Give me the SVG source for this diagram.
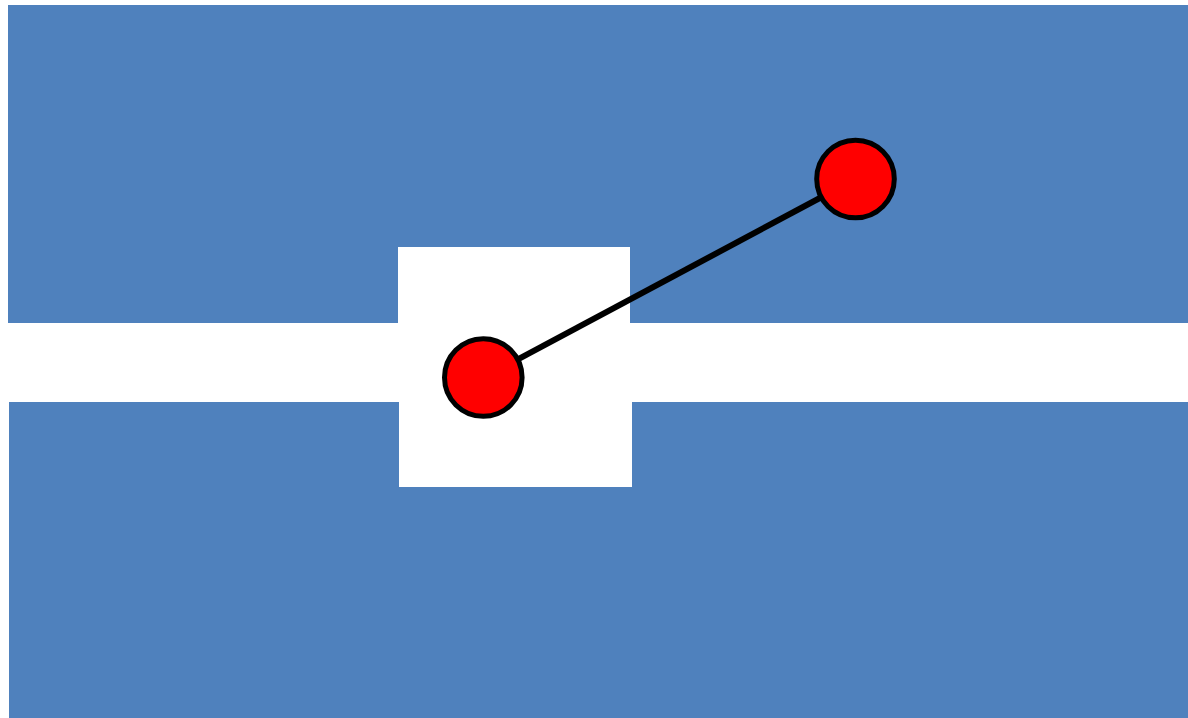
<svg xmlns="http://www.w3.org/2000/svg" width="1188" height="718" viewBox="0 0 1188 718">
<style>
.blue{fill:#4f81bd}
.node{fill:#ff0000;stroke:#000;stroke-width:5}
.conn{stroke:#000;stroke-width:6;fill:none}
</style>
<rect width="1188" height="718" fill="#fff"/>
<g id="background">
<path class="blue" d="M8 5H1188V323H630V247H398V323H8Z"/>
<path class="blue" d="M9 402H399V487H632V402H1188V718H9Z"/>
</g>
<g id="connectors">
<line class="conn" x1="483" y1="378" x2="855.5" y2="179"/>
</g>
<g id="node1"><circle class="node" cx="483.3" cy="377.5" r="38.8"/></g>
<g id="node2"><circle class="node" cx="855.5" cy="179" r="38.8"/></g>
</svg>
